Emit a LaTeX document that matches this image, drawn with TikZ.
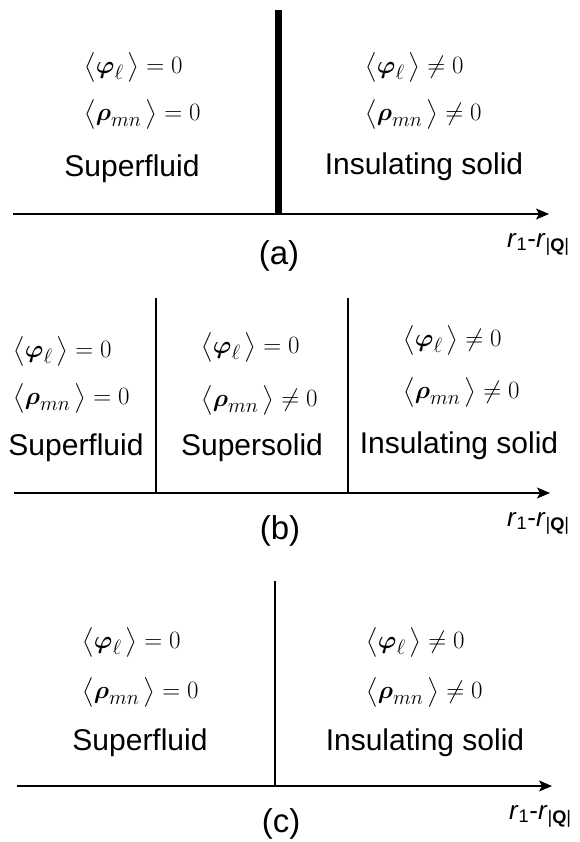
\documentclass[tikz,border=0pt]{standalone}
\usepackage{amsmath}
\usepackage{fontspec}
\setmainfont{Liberation Sans}
\usetikzlibrary{arrows.meta}
\newcommand{\phil}{\bigl\langle\boldsymbol{\varphi}_{\ell}\,\bigr\rangle}
\newcommand{\rhomn}{\bigl\langle\boldsymbol{\rho}_{mn}\,\bigr\rangle}
\newcommand{\axlabel}{\textit{r}\textsubscript{1}-\textit{r}\textsubscript{|\textbf{Q}|}}
\begin{document}
\begin{tikzpicture}[x=1pt, y=-1pt,
    eq/.style={anchor=west, inner sep=0pt, font=\fontsize{29}{33}\selectfont},
    phase/.style={anchor=base, inner sep=0pt, font=\fontsize{30}{36}\selectfont},
    panel/.style={inner sep=0pt, font=\fontsize{33}{40}\selectfont},
    axlab/.style={anchor=base west, inner sep=0pt, font=\fontsize{26}{30}\selectfont},
    axe/.style={-{Stealth[length=13pt, width=11pt, inset=3pt]}, line width=1.3pt},
    mur/.style={line width=1.2pt},
    murepais/.style={line width=7pt}
]
    \useasboundingbox (0,0) rectangle (580,842);

    % (a)
    \coordinate (a0) at (13,214);
    \coordinate (a1) at (549,214);
    \coordinate (atop) at (278,10);
    \draw[axe] (a0) -- (a1);
    \draw[murepais] (atop) -- (atop |- a0);
    \node[eq] (sfaphi) at (84,67) {$\phil=0$};
    \node[eq] (sfarho) at (84,114) {$\rhomn=0$};
    \node[phase] (sfa) at (132,177) {Superfluid};
    \node[eq] (isaphi) at (365,67) {$\phil\neq0$};
    \node[eq] (isarho) at (365,114) {$\rhomn\neq0$};
    \node[phase] (isa) at (424,175) {Insulating solid};
    \node[panel] (laba) at (279,256) {(a)};
    \node[axlab] (axa) at (507,247) {\axlabel};

    % (b)
    \coordinate (b0) at (14,493);
    \coordinate (b1) at (550,493);
    \coordinate (btopl) at (156,298);
    \coordinate (btopr) at (348,298);
    \draw[axe] (b0) -- (b1);
    \draw[mur] (btopl) -- (btopl |- b0);
    \draw[mur] (btopr) -- (btopr |- b0);
    \node[eq] (sfbphi) at (13,351) {$\phil=0$};
    \node[eq] (sfbrho) at (13,398) {$\rhomn=0$};
    \node[phase] (sfb) at (76,455) {Superfluid};
    \node[eq] (ssbphi) at (201,347) {$\phil=0$};
    \node[eq] (ssbrho) at (201,400) {$\rhomn\neq0$};
    \node[phase] (ssb) at (252,455) {Supersolid};
    \node[eq] (isbphi) at (403,340) {$\phil\neq0$};
    \node[eq] (isbrho) at (403,392) {$\rhomn\neq0$};
    \node[phase] (isb) at (459,453) {Insulating solid};
    \node[panel] (labb) at (280,531) {(b)};
    \node[axlab] (axb) at (507,526) {\axlabel};

    % (c)
    \coordinate (c0) at (17,786);
    \coordinate (c1) at (552,786);
    \coordinate (ctop) at (275,581);
    \draw[axe] (c0) -- (c1);
    \draw[mur] (ctop) -- (ctop |- c0);
    \node[eq] (sfcphi) at (82,642) {$\phil=0$};
    \node[eq] (sfcrho) at (82,692) {$\rhomn=0$};
    \node[phase] (sfc) at (140,750) {Superfluid};
    \node[eq] (iscphi) at (366,642) {$\phil\neq0$};
    \node[eq] (iscrho) at (366,692) {$\rhomn\neq0$};
    \node[phase] (isc) at (425,750) {Insulating solid};
    \node[panel] (labc) at (281,824) {(c)};
    \node[axlab] (axc) at (509,819) {\axlabel};
\end{tikzpicture}
\end{document}
